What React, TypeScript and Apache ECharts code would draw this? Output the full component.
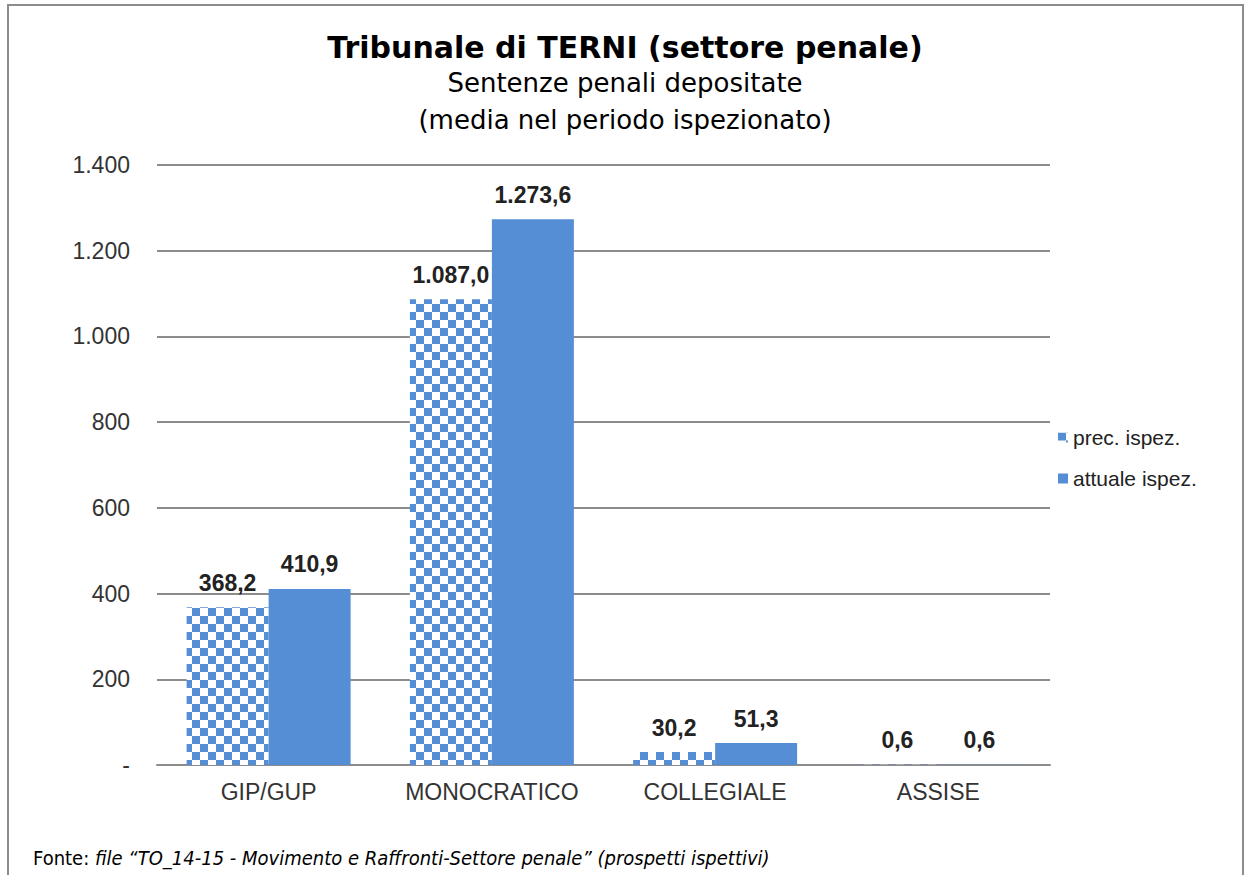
import React, { useEffect, useRef } from "react";
import * as echarts from "echarts";

const categories = ["GIP/GUP", "MONOCRATICO", "COLLEGIALE", "ASSISE"];
const seriesNames = ["prec. ispez.", "attuale ispez."];
const precValues = [368.2, 1087.0, 30.2, 0.6];
const attualeValues = [410.9, 1273.6, 51.3, 0.6];
const yTicks = [0, 200, 400, 600, 800, 1000, 1200, 1400];

const titleText = "Tribunale di TERNI (settore penale)";
const subtitleLines = ["Sentenze penali depositate", "(media nel periodo ispezionato)"];
const footerLabel = "Fonte: ";
const footerItalic = "file “TO_14-15 - Movimento e Raffronti-Settore penale” (prospetti ispettivi)";

const BLUE = "#558ED5";
const GRID = "#8c8c8c";
const SANS = "Liberation Sans, Arial, sans-serif";

function thousands(n: number): string {
  const s = Math.floor(Math.abs(n)).toString();
  return s.replace(/\B(?=(\d{3})+(?!\d))/g, ".");
}
function fmtTick(v: number): string {
  if (v === 0) return "-";
  return thousands(v);
}
function fmtLabel(v: number): string {
  const fixed = v.toFixed(1);
  const [i, d] = fixed.split(".");
  return thousands(Number(i)) + "," + d;
}

function makePattern() {
  const c = document.createElement("canvas");
  c.width = 16;
  c.height = 16;
  const ctx = c.getContext("2d")!;
  ctx.fillStyle = "#ffffff";
  ctx.fillRect(0, 0, 16, 16);
  ctx.fillStyle = BLUE;
  ctx.fillRect(0, 0, 8, 8);
  ctx.fillRect(8, 8, 8, 8);
  return { image: c, repeat: "repeat", imageWidth: 16, imageHeight: 16 } as any;
}

export default function App() {
  const ref = useRef<HTMLDivElement>(null);
  useEffect(() => {
    if (!ref.current) return;
    const chart = echarts.init(ref.current, undefined, { renderer: "svg" });
    const pattern = makePattern();
    const labelCommon = {
      show: true,
      position: "top" as const,
      distance: 13,
      fontFamily: SANS,
      fontSize: 23,
      fontWeight: "bold" as const,
      color: "#222",
      formatter: (p: any) => fmtLabel(p.value),
    };
    chart.setOption({
      animation: false,
      backgroundColor: "#ffffff",
      grid: { left: 157, right: 194, top: 165, bottom: 110 },
      legend: {
        orient: "vertical",
        left: 1058,
        top: 427,
        padding: 0,
        itemWidth: 10,
        itemHeight: 10,
        itemGap: 20,
        icon: "rect",
        data: seriesNames,
        textStyle: {
          fontFamily: SANS,
          fontSize: 21,
          lineHeight: 21,
          color: "#222",
        },
      },
      xAxis: {
        type: "category",
        data: categories,
        axisLine: { lineStyle: { color: GRID, width: 2 } },
        axisTick: { show: false },
        axisLabel: {
          interval: 0,
          hideOverlap: false,
          fontFamily: SANS,
          fontSize: 23,
          color: "#333",
          margin: 15,
        },
      },
      yAxis: {
        type: "value",
        min: yTicks[0],
        max: yTicks[yTicks.length - 1],
        interval: 200,
        axisLine: { show: false },
        axisTick: { show: false },
        splitLine: { lineStyle: { color: GRID, width: 2 } },
        axisLabel: {
          fontFamily: SANS,
          fontSize: 23,
          color: "#333",
          margin: 27,
          formatter: (v: number) => fmtTick(v),
        },
      },
      series: [
        {
          name: seriesNames[0],
          type: "bar",
          data: precValues,
          barWidth: 82,
          barGap: "0%",
          itemStyle: { color: pattern },
          label: labelCommon,
        },
        {
          name: seriesNames[1],
          type: "bar",
          data: attualeValues,
          barWidth: 82,
          barGap: "0%",
          itemStyle: { color: BLUE },
          label: labelCommon,
        },
      ],
      graphic: [
        {
          type: "rect",
          shape: { x: 8, y: 5, width: 1235, height: 900 },
          style: { fill: "none", stroke: GRID, lineWidth: 2 },
          silent: true,
        },
        {
          type: "text",
          x: 625,
          y: 47,
          style: {
            text: titleText,
            textAlign: "center",
            textVerticalAlign: "middle",
            font: 'bold 30px "DejaVu Sans", Verdana, sans-serif',
            fill: "#000",
          },
        },
        {
          type: "text",
          x: 625,
          y: 83,
          style: {
            text: subtitleLines[0],
            textAlign: "center",
            textVerticalAlign: "middle",
            font: '26px "DejaVu Sans", Verdana, sans-serif',
            fill: "#000",
          },
        },
        {
          type: "text",
          x: 625,
          y: 120,
          style: {
            text: subtitleLines[1],
            textAlign: "center",
            textVerticalAlign: "middle",
            font: '26px "DejaVu Sans", Verdana, sans-serif',
            fill: "#000",
          },
        },
        {
          type: "text",
          x: 33,
          y: 858,
          style: {
            text: "{n|" + footerLabel + "}{i|" + footerItalic + "}",
            textVerticalAlign: "middle",
            rich: {
              n: {
                fontFamily: '"DejaVu Sans Condensed", "Liberation Sans Narrow", "Open Sans", sans-serif',
                fontSize: 20,
                fill: "#000",
              },
              i: {
                fontFamily: '"DejaVu Sans Condensed", "Liberation Sans Narrow", "Open Sans", sans-serif',
                fontSize: 20,
                fontStyle: "italic",
                fill: "#000",
              },
            },
          },
        },
      ],
    });
    return () => chart.dispose();
  }, []);
  return (
    <div
      ref={ref}
      style={{ position: "fixed", left: 0, top: 0, width: 1244, height: 875 }}
    />
  );
}
